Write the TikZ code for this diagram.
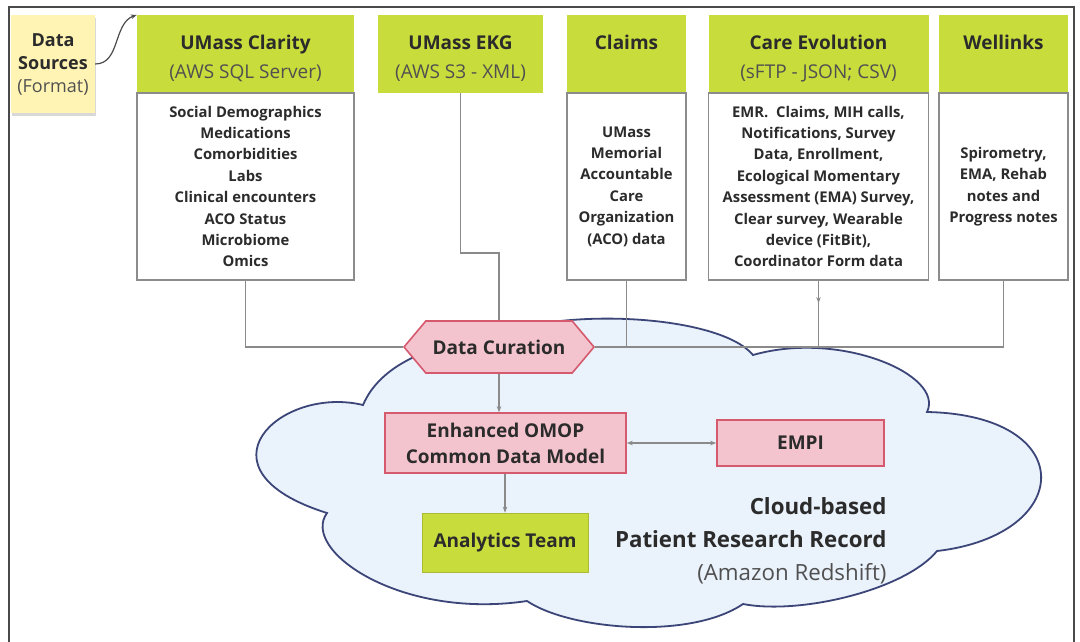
\documentclass[tikz,border=0pt]{standalone}
\usepackage{fontspec}
\setmainfont{Open Sans}
\usetikzlibrary{shapes.symbols,arrows.meta,shadows,decorations.markings}
\definecolor{lime}{HTML}{C8DC3C}
\definecolor{pinkf}{HTML}{F4C4CE}
\definecolor{pinkd}{HTML}{D65A6E}
\definecolor{cloudf}{HTML}{EAF2FC}
\definecolor{cloudd}{HTML}{3B4577}
\definecolor{boxg}{HTML}{8C8C8C}
\definecolor{conng}{HTML}{8A8A8A}
\definecolor{txt}{HTML}{2B2B2B}
\definecolor{fmtg}{HTML}{505050}
\definecolor{notey}{HTML}{FFF4B3}
\definecolor{framec}{HTML}{4A4A4A}
\newcommand{\hdrtwo}[3]{\parbox[c][78pt][t]{#1}{\centering\rule{0pt}{34pt}\textbf{#2}\\{\color{fmtg}#3}}}
\newcommand{\hdrone}[2]{\parbox[c][78pt][t]{#1}{\centering\rule{0pt}{34pt}\textbf{#2}}}
\begin{document}
\begin{tikzpicture}[x=1pt,y=-1pt,
  every node/.style={text=txt},
  hdr/.style={rectangle, fill=lime, inner sep=0pt, font=\fontsize{19}{29}\selectfont},
  body/.style={rectangle, draw=boxg, line width=1.1pt, fill=white, inner sep=2pt,
    minimum height=187pt, align=center, font=\bfseries\fontsize{14.8}{21.4}\selectfont},
  pinkbox/.style={rectangle, draw=pinkd, line width=1.6pt, fill=pinkf, align=center,
    font=\bfseries\fontsize{19}{26}\selectfont},
  greenbox/.style={rectangle, draw=lime!85!black, line width=0.8pt, fill=lime, align=center,
    font=\bfseries\fontsize{19}{26}\selectfont},
  curation/.style={signal, signal to=west and east, signal pointer angle=100,
    draw=pinkd, line width=1.6pt, fill=pinkf, minimum width=190pt, minimum height=52pt,
    inner sep=2pt, font=\bfseries\fontsize{19}{23}\selectfont},
  conn/.style={draw=conng, line width=1.2pt},
  arr/.style={conn, -{Stealth[length=6pt,width=4.5pt]}},
  darr/.style={conn, {Stealth[length=6pt,width=4.5pt]}-{Stealth[length=6pt,width=4.5pt]}},
  midmark/.style={postaction={decorate, decoration={markings,
    mark=at position 0.34 with {\arrow[conng]{Stealth[length=6pt,width=4.5pt]}}}}},
  cloudsh/.style={draw=cloudd, line width=1.8pt, fill=cloudf},
  framesh/.style={draw=framec, line width=2.5pt},
]
\useasboundingbox (0,0) rectangle (1080,641);
\fill[white] (0,0) rectangle (1080,641);
\draw[framesh] (9,645) -- (9,7) -- (1074,7) -- (1074,645);

% cloud
\draw[cloudsh] (753,355) .. controls (720,315) and (560,305) .. (480,340)
 .. controls (430,345) and (380,365) .. (363,405)
 .. controls (280,385) and (190,470) .. (327,513)
 .. controls (300,550) and (400,620) .. (527,601)
 .. controls (570,630) and (690,640) .. (743,604)
 .. controls (800,615) and (905,590) .. (937,551)
 .. controls (1075,535) and (1080,415) .. (927,412)
 .. controls (945,375) and (840,330) .. (753,355) -- cycle;

% note
\node[rectangle, fill=notey, minimum width=84pt, minimum height=98pt, align=center,
  inner sep=0pt, font=\fontsize{18}{23}\selectfont,
  drop shadow={shadow xshift=1pt, shadow yshift=-3pt, opacity=0.3}] (note) at (53,64)
  {\textbf{Data}\\\textbf{Sources}\\{\color{fmtg}(Format)}};

% headers
\node[hdr] (clar) at (245.5,54) {\hdrtwo{217pt}{UMass Clarity}{(AWS SQL Server)}};
\node[hdr] (ekg) at (460.5,54) {\hdrtwo{165pt}{UMass EKG}{(AWS S3 - XML)}};
\node[hdr] (claims) at (626.5,54) {\hdrone{119pt}{Claims}};
\node[hdr] (care) at (818.5,54) {\hdrtwo{220pt}{Care Evolution}{(sFTP - JSON; CSV)}};
\node[hdr] (well) at (1003.5,54) {\hdrone{129pt}{Wellinks}};

% bodies
\node[body, minimum width=217pt] (clarb) at (245.5,186.5)
  {Social Demographics\\Medications\\Comorbidities\\Labs\\Clinical encounters\\ACO Status\\Microbiome\\Omics};
\node[body, minimum width=119pt] (claimsb) at (626.5,186.5)
  {UMass\\Memorial\\Accountable\\Care\\Organization\\(ACO) data};
\node[body, minimum width=220pt] (careb) at (818.5,186.5)
  {EMR.\ \ Claims, MIH calls,\\Notifications, Survey\\Data, Enrollment,\\Ecological Momentary\\Assessment (EMA) Survey,\\Clear survey, Wearable\\device (FitBit),\\Coordinator Form data};
\node[body, minimum width=129pt] (wellb) at (1003.5,186.5)
  {Spirometry,\\EMA, Rehab\\notes and\\Progress notes};

% cloud contents
\node[curation] (cur) at (499,347) {Data Curation};
\node[pinkbox, minimum width=241pt, minimum height=60pt] (omop) at (505.5,443)
  {Enhanced OMOP\\Common Data Model};
\node[pinkbox, minimum width=167pt, minimum height=46pt] (empi) at (800.5,443) {EMPI};
\node[greenbox, minimum width=166pt, minimum height=59pt] (ana) at (505,542.5) {Analytics Team};
\node[align=right, anchor=east, font=\bfseries\fontsize{22.3}{33}\selectfont] (prr) at (890,541)
  {Cloud-based\\Patient Research Record\\{\mdseries\color{fmtg}(Amazon Redshift)}};

% connectors
\coordinate (ekgbend) at (0,253);
\draw[conn] (clarb.south) |- (cur.west);
\draw[conn] (ekg.south) |- (cur.north |- ekgbend) -- (cur.north);
\draw[conn] (claimsb.south) |- (cur.east);
\draw[conn] (wellb.south) |- (cur.east);
\draw[conn, midmark] (careb.south) -- (careb.south |- cur.east);
\draw[arr] (cur.south) -- (cur.south |- omop.north);
\draw[darr] (omop.east) -- (empi.west);
\draw[arr] (omop.south -| ana.north) -- (ana.north);
\draw[arr, draw=black!70] (note.east) to[out=0, in=200] (clar.north west);
\end{tikzpicture}
\end{document}
